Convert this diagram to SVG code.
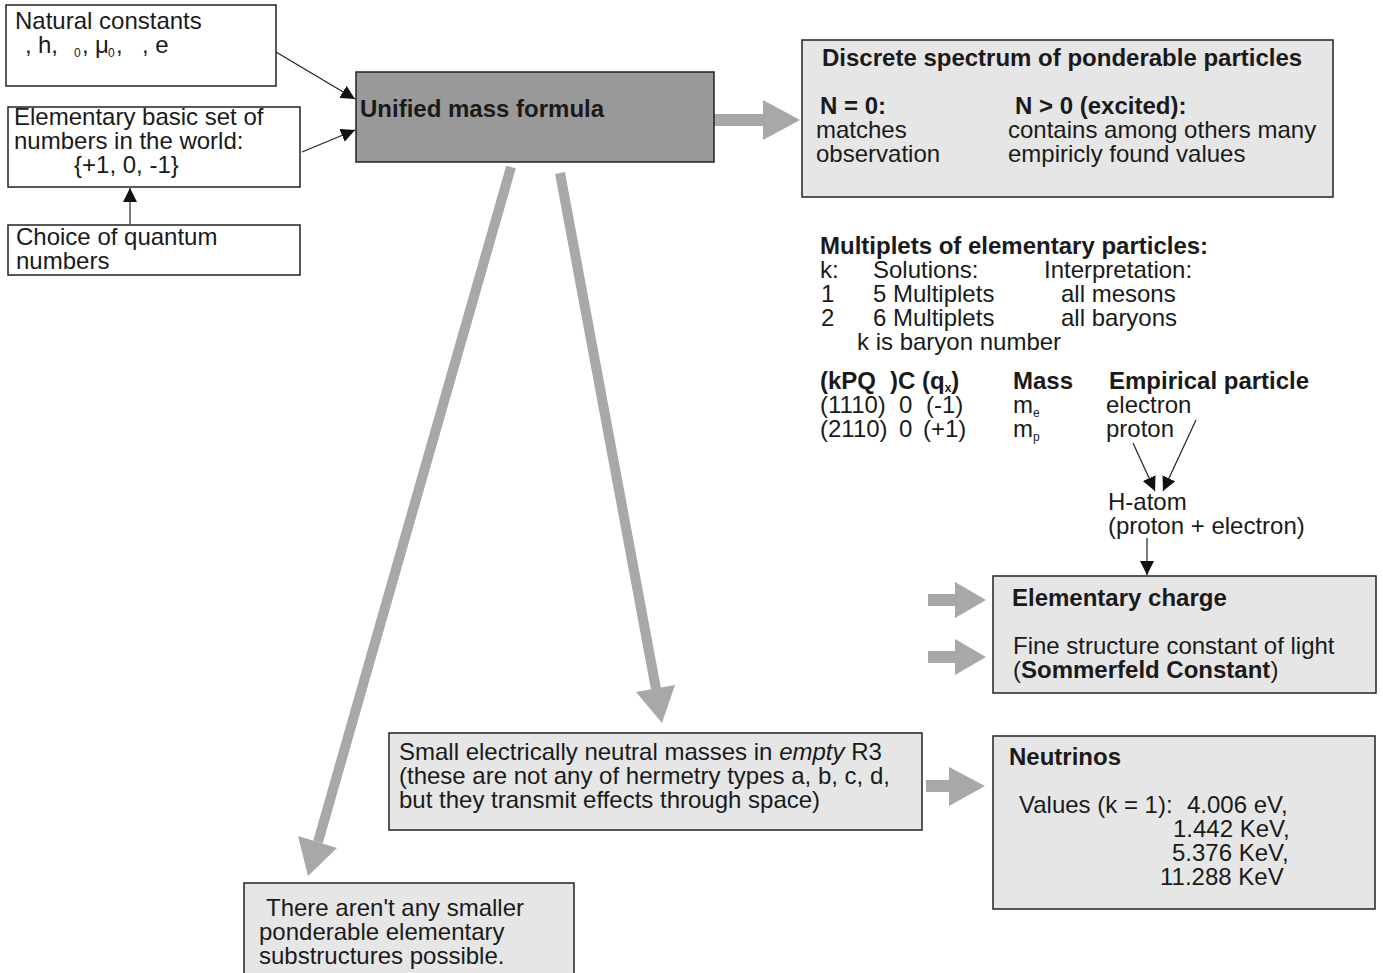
<svg xmlns="http://www.w3.org/2000/svg" width="1383" height="973" viewBox="0 0 1383 973">
<style>
text{font-family:"Liberation Sans",Arial,sans-serif;font-size:24px;fill:#1a1a1a;white-space:pre}
.b{font-weight:bold}
.s{font-size:12px}
.box{fill:#fff;stroke:#222;stroke-width:1.5}
.gbox{fill:#e6e6e6;stroke:#222;stroke-width:1.5}
.thin{stroke:#222;stroke-width:1.2;fill:none;marker-end:url(#ah)}
.gray{fill:#a8a8a8}
.gline{stroke:#a8a8a8;stroke-width:10;fill:none}
</style>
<defs>
<marker id="ah" viewBox="0 0 10 10" refX="10" refY="5" markerWidth="14" markerHeight="14" markerUnits="userSpaceOnUse" orient="auto">
<path d="M0,0 L10,5 L0,10 z" fill="#111"/>
</marker>
</defs>
<rect width="1383" height="973" fill="#fff"/>

<g id="connectors">
<line class="thin" x1="276" y1="52" x2="355" y2="99"/>
<line class="thin" x1="302" y1="152" x2="355" y2="130"/>
<line class="thin" x1="130" y1="224" x2="130" y2="188"/>
<line class="thin" x1="1133" y1="443" x2="1155" y2="491"/>
<line class="thin" x1="1196" y1="420" x2="1163" y2="491"/>
<line class="thin" x1="1147" y1="538" x2="1147" y2="575"/>
<rect class="gray" x="714" y="114" width="50" height="12"/>
<polygon class="gray" points="763,100 800,120 763,140"/>
<rect class="gray" x="928" y="594" width="28" height="12"/>
<polygon class="gray" points="955,582 986,600 955,618"/>
<rect class="gray" x="928" y="651" width="28" height="12"/>
<polygon class="gray" points="955,639 986,657 955,675"/>
<rect class="gray" x="926" y="780" width="24" height="12"/>
<polygon class="gray" points="949,767 985,786 949,806"/>
<line class="gline" x1="511" y1="167" x2="318" y2="842"/>
<polygon class="gray" points="298,836 337,848 308,876"/>
<line class="gline" x1="560" y1="173" x2="656" y2="689"/>
<polygon class="gray" points="636,692 675,685 662,723"/>
</g>

<g id="natural-constants">
<rect class="box" x="6" y="5" width="270" height="81"/>
<text x="15" y="29">Natural constants</text>
<text x="25" y="53">,</text>
<text x="38" y="53">h,</text>
<text class="s" x="74" y="57">0</text>
<text x="82" y="53">,</text>
<text x="95" y="53">μ</text>
<text class="s" x="108" y="57">0</text>
<text x="116" y="53">,</text>
<text x="142" y="53">, e</text>
</g>

<g id="basic-set">
<rect class="box" x="8" y="107" width="292" height="80"/>
<text x="14" y="125">Elementary basic set of</text>
<text x="14" y="149">numbers in the world:</text>
<text x="74" y="173">{+1, 0, -1}</text>
</g>

<g id="quantum-numbers">
<rect class="box" x="8" y="225" width="292" height="50"/>
<text x="16" y="245">Choice of quantum</text>
<text x="16" y="269">numbers</text>
</g>

<g id="unified">
<rect x="356" y="72" width="358" height="90" fill="#999" stroke="#222" stroke-width="1.5"/>
<text class="b" x="360" y="117">Unified mass formula</text>
</g>

<g id="discrete">
<rect class="gbox" x="802" y="40" width="531" height="157"/>
<text class="b" x="822" y="66">Discrete spectrum of ponderable particles</text>
<text class="b" x="820" y="114">N = 0:</text>
<text class="b" x="1015" y="114">N &gt; 0 (excited):</text>
<text x="816" y="138">matches</text>
<text x="816" y="162">observation</text>
<text x="1008" y="138">contains among others many</text>
<text x="1008" y="162">empiricly found values</text>
</g>

<g id="multiplets">
<text class="b" x="820" y="254">Multiplets of elementary particles:</text>
<text x="820" y="278">k:</text>
<text x="873" y="278">Solutions:</text>
<text x="1044" y="278">Interpretation:</text>
<text x="821" y="302">1</text>
<text x="873" y="302">5 Multiplets</text>
<text x="1061" y="302">all mesons</text>
<text x="821" y="326">2</text>
<text x="873" y="326">6 Multiplets</text>
<text x="1061" y="326">all baryons</text>
<text x="857" y="350">k is baryon number</text>
<text class="b" x="820" y="389">(kPQ</text>
<text class="b" x="890" y="389">)C (q<tspan class="s" dy="3">x</tspan><tspan dy="-3">)</tspan></text>
<text class="b" x="1013" y="389">Mass</text>
<text class="b" x="1109" y="389">Empirical particle</text>
<text x="820" y="413">(1110)</text>
<text x="899" y="413">0</text>
<text x="926" y="413">(-1)</text>
<text x="1013" y="413">m<tspan class="s" dy="4">e</tspan></text>
<text x="1106" y="413">electron</text>
<text x="820" y="437">(2110)</text>
<text x="899" y="437">0</text>
<text x="923" y="437">(+1)</text>
<text x="1013" y="437">m<tspan class="s" dy="4">p</tspan></text>
<text x="1106" y="437">proton</text>
</g>

<g id="h-atom">
<text x="1108" y="510">H-atom</text>
<text x="1108" y="534">(proton + electron)</text>
</g>

<g id="elementary-charge">
<rect class="gbox" x="993" y="576" width="383" height="117"/>
<text class="b" x="1012" y="606">Elementary charge</text>
<text x="1013" y="654">Fine structure constant of light</text>
<text x="1013" y="678">(<tspan class="b">Sommerfeld Constant</tspan>)</text>
</g>

<g id="neutral-masses">
<rect class="gbox" x="389" y="733" width="533" height="97"/>
<text x="399" y="760">Small electrically neutral masses in <tspan font-style="italic">empty</tspan> R3</text>
<text x="399" y="784">(these are not any of hermetry types a, b, c, d,</text>
<text x="399" y="808">but they transmit effects through space)</text>
</g>

<g id="neutrinos">
<rect class="gbox" x="993" y="736" width="382" height="173"/>
<text class="b" x="1009" y="765">Neutrinos</text>
<text x="1019" y="813">Values (k = 1):</text>
<text x="1187" y="813">4.006 eV,</text>
<text x="1173" y="837">1.442 KeV,</text>
<text x="1172" y="861">5.376 KeV,</text>
<text x="1160" y="885">11.288 KeV</text>
</g>

<g id="no-substructures">
<rect class="gbox" x="244" y="883" width="330" height="100"/>
<text x="266" y="916">There aren't any smaller</text>
<text x="259" y="940">ponderable elementary</text>
<text x="259" y="964">substructures possible.</text>
</g>
</svg>
